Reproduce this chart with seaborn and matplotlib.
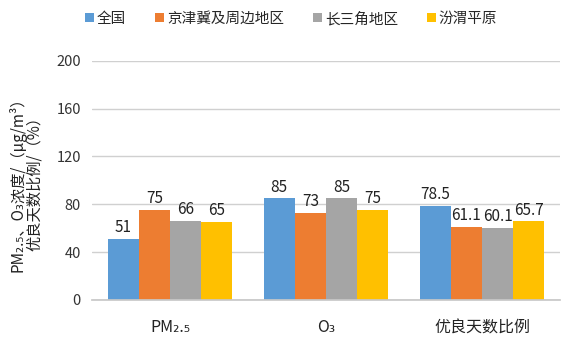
import matplotlib
matplotlib.use("Agg")
import matplotlib.pyplot as plt
import seaborn as sns
import pandas as pd

# Categories and series
categories = ["PM₂.₅", "O₃", "优良天数比例"]
regions = ["全国", "京津冀及周边地区", "长三角地区", "汾渭平原"]
national = [51, 85, 78.5]
jingjinji = [75, 73, 61.1]
yangtze = [66, 85, 60.1]
fenwei = [65, 75, 65.7]
colors = ["#5B9BD5", "#ED7D31", "#A5A5A5", "#FFC000"]
yticks = [0, 40, 80, 120, 160, 200]

rows = []
for region, vals in zip(regions, [national, jingjinji, yangtze, fenwei]):
    for cat, v in zip(categories, vals):
        rows.append({"category": cat, "region": region, "value": v})
df = pd.DataFrame(rows)

sns.set_theme(style="white")
plt.rcParams["font.family"] = ["Noto Sans CJK SC", "DejaVu Sans"]

fig = plt.figure(figsize=(5.72, 3.4), dpi=100)
ax = fig.add_axes([0.161, 0.118, 0.818, 0.703])

sns.barplot(data=df, x="category", y="value", hue="region", order=categories,
            hue_order=regions, palette=colors, width=0.8, gap=0, ax=ax,
            errorbar=None, saturation=1, legend=True, linewidth=0)

for cont in ax.containers:
    ax.bar_label(cont, labels=[f"{b.get_height():g}" for b in cont],
                 padding=2, fontsize=11, color="#222222")

ax.set_ylim(0, 200)
ax.set_yticks(yticks)
ax.set_xlim(-0.5, 2.5)
ax.yaxis.grid(True, color="#D0D0D0", linewidth=1)
ax.set_axisbelow(True)
for s in ["top", "right", "left"]:
    ax.spines[s].set_visible(False)
ax.spines["bottom"].set_color("#C8C8C8")
ax.tick_params(axis="y", length=0, labelsize=10.5, pad=8, labelcolor="#333333")
ax.tick_params(axis="x", length=0, labelsize=11.5, pad=14, labelcolor="#222222")
ax.set_xlabel("")
ax.set_ylabel("PM₂.₅、O₃浓度/（μg/m³）\n优良天数比例/（%）", fontsize=11,
              color="#222222", linespacing=0.95, labelpad=10)

handles, labels = ax.get_legend_handles_labels()
ax.get_legend().remove()
fig.legend(handles, labels, loc="center", bbox_to_anchor=(0.509, 0.945), ncol=4,
           frameon=False, fontsize=10.5, handlelength=0.6, handleheight=0.6,
           handletextpad=0.2, columnspacing=2.0)

fig.savefig("out.png", dpi=100)
